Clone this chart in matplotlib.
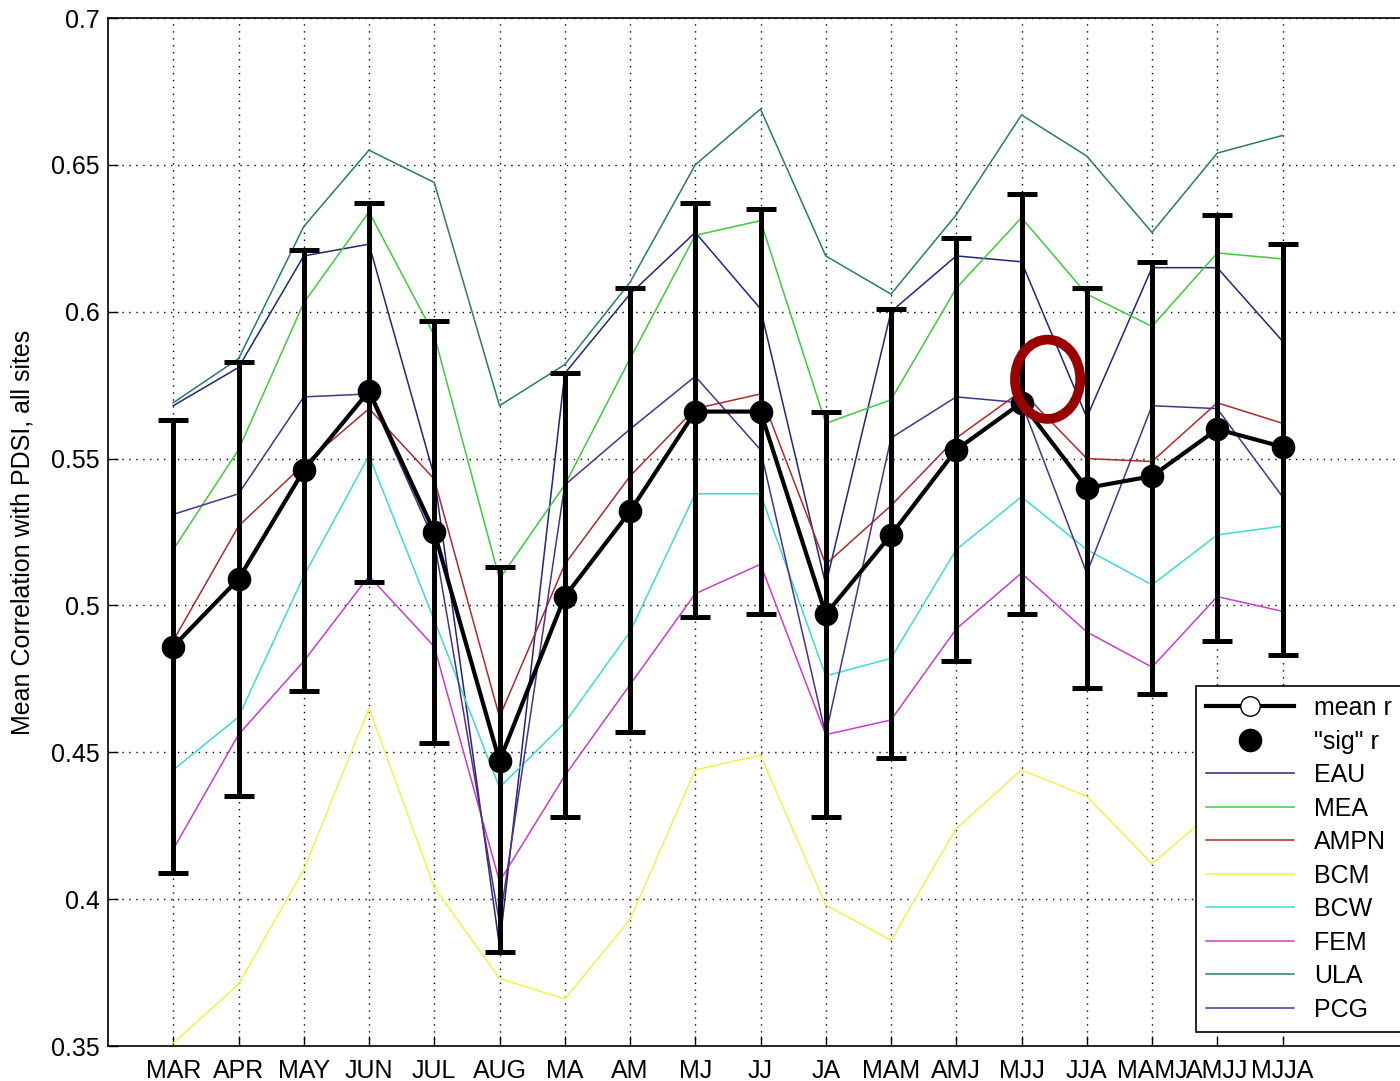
import matplotlib

matplotlib.use("Agg")
import matplotlib.pyplot as plt  # noqa: E402
from matplotlib.lines import Line2D  # noqa: E402
from matplotlib.patches import Ellipse  # noqa: E402
import numpy as np  # noqa: E402

plt.rcParams.update({
    "font.family": ["Liberation Sans", "DejaVu Sans"], "font.size": 18,
    "xtick.direction": "in", "ytick.direction": "in",
})

seasons = ["MAR", "APR", "MAY", "JUN", "JUL", "AUG", "MA", "AM", "MJ", "JJ", "JA",
           "MAM", "AMJ", "MJJ", "JJA", "MAMJ", "AMJJ", "MJJA"]

mean_r = [0.486, 0.509, 0.546, 0.573, 0.525, 0.447, 0.503, 0.532, 0.566, 0.566, 0.497,
          0.524, 0.553, 0.569, 0.540, 0.544, 0.560, 0.554]
err_hi = [0.563, 0.583, 0.621, 0.637, 0.597, 0.513, 0.579, 0.608, 0.637, 0.635, 0.566,
          0.601, 0.625, 0.640, 0.608, 0.617, 0.633, 0.623]
err_lo = [0.409, 0.435, 0.471, 0.508, 0.453, 0.382, 0.428, 0.457, 0.496, 0.497, 0.428,
          0.448, 0.481, 0.497, 0.472, 0.470, 0.488, 0.483]

EAU = [0.568, 0.581, 0.619, 0.623, 0.544, 0.384, 0.579, 0.606, 0.627, 0.601, 0.507,
       0.600, 0.619, 0.617, 0.564, 0.615, 0.615, 0.590]
MEA = [0.519, 0.553, 0.603, 0.634, 0.592, 0.509, 0.541, 0.584, 0.626, 0.631, 0.562,
       0.570, 0.608, 0.632, 0.606, 0.595, 0.620, 0.618]
AMPN = [0.488, 0.527, 0.548, 0.567, 0.543, 0.462, 0.514, 0.544, 0.567, 0.572, 0.514,
        0.534, 0.557, 0.573, 0.550, 0.549, 0.569, 0.562]
BCM = [0.351, 0.371, 0.410, 0.465, 0.404, 0.373, 0.366, 0.393, 0.444, 0.449, 0.398,
       0.386, 0.424, 0.444, 0.435, 0.412, 0.431, 0.440]
BCW = [0.444, 0.462, 0.510, 0.551, 0.495, 0.438, 0.460, 0.491, 0.538, 0.538, 0.476,
       0.482, 0.519, 0.537, 0.519, 0.507, 0.524, 0.527]
FEM = [0.417, 0.456, 0.481, 0.510, 0.486, 0.406, 0.442, 0.473, 0.504, 0.514, 0.456,
       0.461, 0.492, 0.511, 0.491, 0.479, 0.503, 0.498]
ULA = [0.569, 0.584, 0.629, 0.655, 0.644, 0.568, 0.582, 0.610, 0.650, 0.669, 0.619,
       0.606, 0.633, 0.667, 0.653, 0.627, 0.654, 0.660]
PCG = [0.531, 0.538, 0.571, 0.572, 0.522, 0.392, 0.541, 0.560, 0.578, 0.553, 0.456,
       0.557, 0.571, 0.569, 0.511, 0.568, 0.567, 0.537]

series = [("EAU", EAU, "#24247e"), ("MEA", MEA, "#3ccc3c"), ("AMPN", AMPN, "#b02a2a"),
          ("BCM", BCM, "#f2f24a"), ("BCW", BCW, "#3adcdc"), ("FEM", FEM, "#cc3ccc"),
          ("ULA", ULA, "#2a7a70"), ("PCG", PCG, "#4e2f8a")]

yticks = [0.35, 0.4, 0.45, 0.5, 0.55, 0.6, 0.65, 0.7]
ytick_labels = ["0.35", "0.4", "0.45", "0.5", "0.55", "0.6", "0.65", "0.7"]

# red hand-drawn ring on the original
RING_X, RING_Y = 14.4, 0.577

fig = plt.figure(figsize=(14, 10.81), dpi=100)
ax = fig.add_axes([108 / 1400, 35 / 1081, 1305 / 1400, 1028 / 1081])
x = np.arange(1, len(seasons) + 1)

for name, vals, col in series:
    ax.plot(x, vals, color=col, lw=1.1, zorder=2)

lo = np.array(mean_r) - np.array(err_lo)
hi = np.array(err_hi) - np.array(mean_r)
ax.errorbar(x, mean_r, yerr=[lo, hi], fmt="none", ecolor="black", elinewidth=3.6,
            capsize=11, capthick=3.6, zorder=3)
ax.plot(x, mean_r, color="black", lw=3, marker="o", ms=14, mfc="white", mec="black",
        zorder=4)
ax.plot(x, mean_r, ls="none", marker="o", ms=16, color="black", zorder=5)

ax.add_patch(Ellipse((RING_X, RING_Y), width=1.0, height=0.027, fill=False,
                     edgecolor="#990000", lw=7, zorder=6))

ax.set_xlim(0, 20)
ax.set_ylim(0.35, 0.7)
ax.set_xticks(x)
ax.set_xticklabels(seasons)
ax.set_yticks(yticks)
ax.set_yticklabels(ytick_labels)
ax.tick_params(length=7, width=1, pad=6)
ax.tick_params(axis="x", pad=9)
ax.grid(True, ls=(0, (1, 4)), color="black", lw=1)
for s in ax.spines.values():
    s.set_linewidth(1.2)
ax.set_ylabel("Mean Correlation with PDSI, all sites", fontsize=18, labelpad=12)

handles = [Line2D([], [], color="black", lw=3, marker="o", ms=14, mfc="white", mec="black"),
           Line2D([], [], ls="none", marker="o", ms=16, color="black")]
labels = ["mean r", '"sig" r']
for name, vals, col in series:
    handles.append(Line2D([], [], color=col, lw=1.1))
    labels.append(name)
leg = ax.legend(handles, labels, loc="upper left", bbox_to_anchor=(0.834, 0.350),
                borderaxespad=0, handlelength=3.5, labelspacing=0.38, fancybox=False,
                edgecolor="black", framealpha=1, fontsize=18)
leg.get_frame().set_linewidth(1.2)

fig.savefig("out.png", dpi=100)
